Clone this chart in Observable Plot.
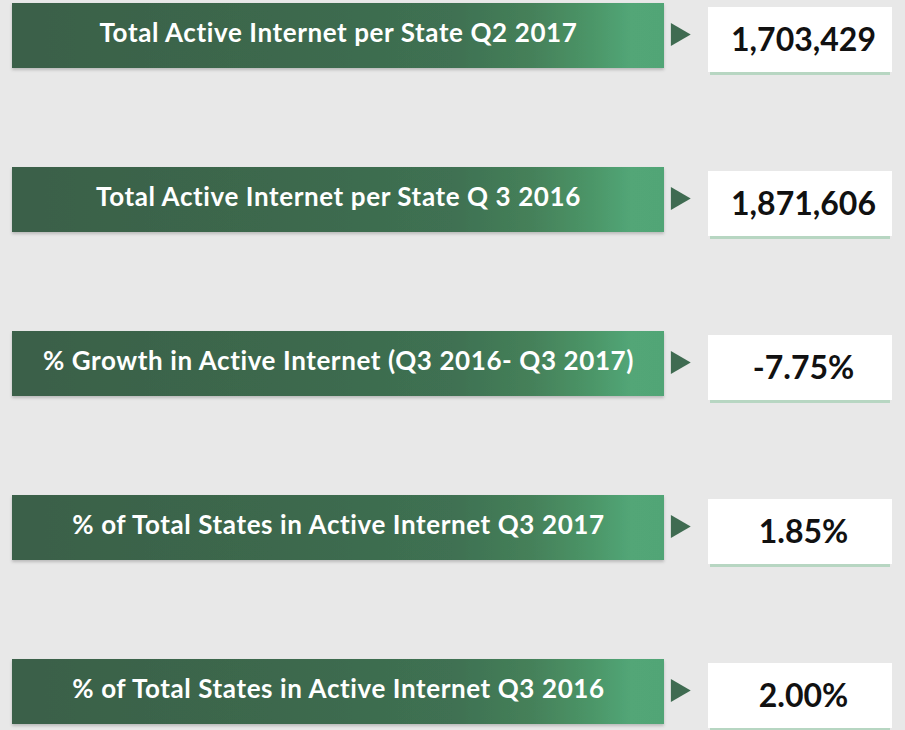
<!DOCTYPE html>
<html>
<head>
<meta charset="utf-8">
<script src="https://cdn.jsdelivr.net/npm/d3@7"></script>
<script src="https://cdn.jsdelivr.net/npm/@observablehq/plot@0.6"></script>
<style>
  html, body { margin: 0; padding: 0; background: #e8e8e8; }
  #chart svg { display: block; }
  #chart text.lbl { letter-spacing: 0.6px; }
</style>
</head>
<body>
<div id="chart"></div>
<script>
// ---- data ----
const labels = [
  "Total Active Internet per State Q2 2017",
  "Total Active Internet per State Q 3 2016",
  "% Growth in Active Internet (Q3 2016- Q3 2017)",
  "% of Total States in Active Internet Q3 2017",
  "% of Total States in Active Internet Q3 2016"
];
const values = ["1,703,429", "1,871,606", "-7.75%", "1.85%", "2.00%"];

const rows = labels.map((label, i) => ({label, value: values[i]}));

// ---- layout (in x-scale units = pixels) ----
const BAR_X1 = 12, BAR_X2 = 664;
const ARROW_X = 677;
const BOX_X1 = 708, BOX_X2 = 892;
const LABEL_X = 338;
const VALUE_X = 803;

const defs = () => {
  const g = d3.create("svg:defs");
  const grad = g.append("linearGradient").attr("id", "barGrad").attr("x1", 0).attr("x2", 1).attr("y1", 0).attr("y2", 0);
  [[0, "#3a6048"], [0.4, "#3c684d"], [0.68, "#3f7152"], [0.8, "#45815a"], [0.89, "#4c9668"], [0.95, "#52a677"], [1, "#51a576"]]
    .forEach(([o, c]) => grad.append("stop").attr("offset", o).attr("stop-color", c));
  const f = g.append("filter").attr("id", "shadow").attr("x", "-5%").attr("y", "-20%").attr("width", "110%").attr("height", "150%");
  f.append("feDropShadow").attr("dx", 0).attr("dy", 2).attr("stdDeviation", 1.5).attr("flood-color", "#000").attr("flood-opacity", 0.2);
  return g.node();
};

const chart = Plot.plot({
  width: 905,
  height: 730,
  margin: 0,
  style: {background: "#e8e8e8", fontFamily: "Lato, 'Open Sans', sans-serif"},
  x: {type: "linear", domain: [0, 905], range: [0, 905], axis: null},
  y: {type: "band", domain: labels, range: [3, 728], paddingInner: 0.605, paddingOuter: 0, align: 0, axis: null},
  marks: [
    defs,
    // green bars
    Plot.barX(rows, {y: "label", x1: BAR_X1, x2: BAR_X2, fill: "url(#barGrad)"}),
    // value box shadow line
    Plot.barX(rows, {y: "label", x1: BOX_X1 + 2, x2: BOX_X2 - 2, fill: "#b7d6c2", dy: 7}),
    // value boxes
    Plot.barX(rows, {y: "label", x1: BOX_X1, x2: BOX_X2, fill: "#ffffff", dy: 4}),
    // arrows
    Plot.dot(rows, {y: "label", x: ARROW_X, symbol: "triangle", rotate: 90, r: 8.5, fill: "#3f6b51", dy: -1.5}),
    // labels
    Plot.text(rows, {y: "label", x: LABEL_X, text: "label", fill: "white", fontSize: 26, fontWeight: "bold", dy: -2}),
    // values
    Plot.text(rows, {y: "label", x: VALUE_X, text: "value", fill: "#111", fontSize: 32, fontWeight: "bold", dy: 5})
  ]
});

const root = d3.select(chart);
root.selectAll("text").filter(function() {
  return labels.includes(this.textContent);
}).classed("lbl", true);
root.selectAll("rect").filter(function() {
  return this.getAttribute("fill") === "url(#barGrad)" || (this.parentNode && this.parentNode.getAttribute("fill") === "url(#barGrad)");
}).attr("filter", "url(#shadow)");

document.getElementById("chart").appendChild(chart);
</script>
</body>
</html>
